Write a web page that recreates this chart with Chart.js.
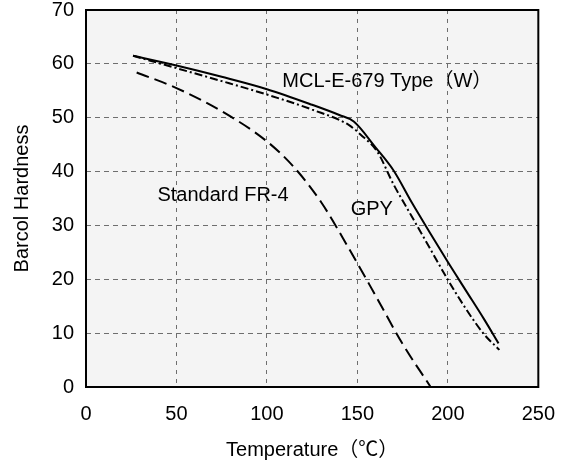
<!DOCTYPE html>
<html>
<head>
<meta charset="utf-8">
<script src="https://cdn.jsdelivr.net/npm/chart.js@4/dist/chart.umd.min.js"></script>
<style>
  html, body { margin: 0; padding: 0; background: #fff; }
  #wrap { width: 570px; height: 471px; }
</style>
</head>
<body>
<div id="wrap"><canvas id="chart" width="570" height="471"></canvas></div>
<script>
// Barcol hardness vs temperature
const mclTemp = [26, 50, 75, 100, 125, 140, 148, 160, 170, 180, 190, 200, 210, 220, 228];
const mclHard = [61.5, 59.7, 57.6, 55.3, 52.4, 50.5, 49.3, 44.5, 40.2, 34.3, 28.7, 23.2, 17.9, 12.6, 8.1];

const gpyTemp = [26, 50, 75, 100, 125, 145, 152, 161, 170, 180, 190, 200, 210, 220, 228.5];
const gpyHard = [61.5, 59.2, 56.8, 54.3, 51.5, 48.7, 46.8, 43.7, 37.6, 31.7, 25.8, 19.9, 14.5, 9.8, 6.9];

const fr4Temp = [28, 50, 75, 100, 115, 130, 145, 160, 175, 190.5];
const fr4Hard = [58.4, 55.5, 51.2, 45.6, 40.8, 34.3, 25.9, 17.0, 8.0, 0];

const xTicks = [0, 50, 100, 150, 200, 250];
const yTicks = [0, 10, 20, 30, 40, 50, 60, 70];

// curve labels, placed in data units
const labelText = ['MCL-E-679 Type（W）', 'Standard FR-4', 'GPY'];
const labelTemp = [108.5, 39.5, 146.3];
const labelHard = [56.7, 35.6, 32.9];

function toPoints(xs, ys) {
    return xs.map((x, i) => ({ x: x, y: ys[i] }));
}

const FONT = '"Liberation Sans", Arial, "Noto Sans CJK JP", sans-serif';

const plotFrame = {
    id: 'plotFrame',
    beforeDraw(chart) {
        const a = chart.chartArea;
        const ctx = chart.ctx;
        ctx.save();
        ctx.fillStyle = '#f4f4f4';
        ctx.fillRect(a.left, a.top, a.right - a.left, a.bottom - a.top);
        ctx.restore();
    },
    afterDraw(chart) {
        const a = chart.chartArea;
        const ctx = chart.ctx;
        ctx.save();
        ctx.strokeStyle = '#000';
        ctx.lineWidth = 2;
        ctx.strokeRect(a.left, a.top, a.right - a.left, a.bottom - a.top);
        ctx.restore();
    }
};

const curveLabels = {
    id: 'curveLabels',
    afterDatasetsDraw(chart) {
        const ctx = chart.ctx;
        const xs = chart.scales.x, ys = chart.scales.y;
        ctx.save();
        ctx.fillStyle = '#000';
        ctx.font = '20px ' + FONT;
        ctx.textAlign = 'left';
        ctx.textBaseline = 'middle';
        labelText.forEach((t, i) => {
            ctx.fillText(t, xs.getPixelForValue(labelTemp[i]), ys.getPixelForValue(labelHard[i]));
        });
        ctx.restore();
    }
};

new Chart(document.getElementById('chart'), {
    type: 'line',
    data: {
        datasets: [
            {
                label: 'MCL-E-679 Type(W)',
                data: toPoints(mclTemp, mclHard),
                borderColor: '#000',
                borderWidth: 2,
                cubicInterpolationMode: 'monotone'
            },
            {
                label: 'GPY',
                data: toPoints(gpyTemp, gpyHard),
                borderColor: '#000',
                borderWidth: 2,
                borderDash: [8, 3, 2, 3],
                cubicInterpolationMode: 'monotone'
            },
            {
                label: 'Standard FR-4',
                data: toPoints(fr4Temp, fr4Hard),
                borderColor: '#000',
                borderWidth: 2,
                borderDash: [13, 6],
                cubicInterpolationMode: 'monotone'
            }
        ]
    },
    options: {
        responsive: false,
        animation: false,
        devicePixelRatio: 1,
        elements: { point: { radius: 0 } },
        layout: { padding: { left: 0, right: 31, top: 0, bottom: 0 } },
        plugins: {
            legend: { display: false },
            tooltip: { enabled: false }
        },
        scales: {
            x: {
                type: 'linear',
                min: 0,
                max: 250,
                afterBuildTicks: s => { s.ticks = xTicks.map(v => ({ value: v })); },
                afterFit: s => { s.height = 84; },
                border: { display: false, dash: [4, 5] },
                grid: {
                    color: '#6e6e6e',
                    lineWidth: 1,
                    drawTicks: false
                },
                ticks: {
                    color: '#000',
                    padding: 15,
                    maxRotation: 0,
                    font: { family: FONT, size: 20 }
                },
                title: {
                    display: true,
                    text: 'Temperature（℃）',
                    color: '#000',
                    font: { family: FONT, size: 20 },
                    padding: { bottom: 9 }
                }
            },
            y: {
                min: 0,
                max: 70,
                afterBuildTicks: s => { s.ticks = yTicks.map(v => ({ value: v })); },
                afterFit: s => {
                    s.width = 86;
                    s.paddingTop = 10;
                },
                border: { display: false, dash: [5, 4] },
                grid: {
                    color: '#6e6e6e',
                    lineWidth: 1,
                    drawTicks: false
                },
                ticks: {
                    color: '#000',
                    padding: 12,
                    font: { family: FONT, size: 20 }
                },
                title: {
                    display: true,
                    text: 'Barcol Hardness',
                    color: '#000',
                    font: { family: FONT, size: 20 },
                    padding: { top: 10 }
                }
            }
        }
    },
    plugins: [plotFrame, curveLabels]
});
</script>
</body>
</html>
